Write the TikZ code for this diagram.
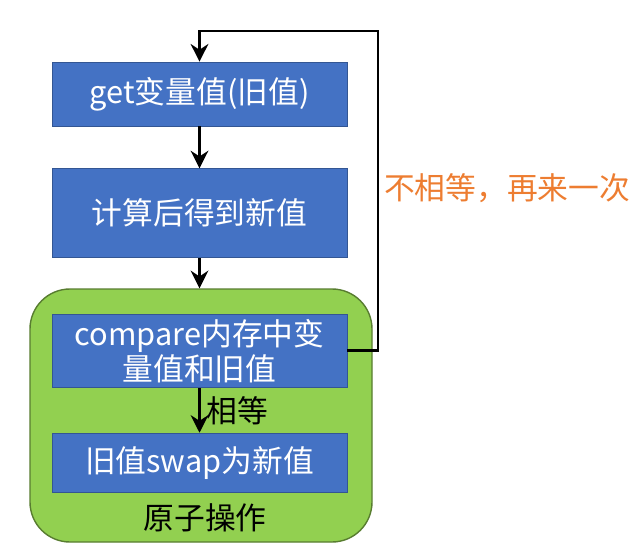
\documentclass[tikz,border=0pt]{standalone}
\usepackage{fontspec}
\setmainfont{Noto Sans CJK SC}
\usepackage{tikz}
\usetikzlibrary{positioning,arrows.meta}
\definecolor{stepblue}{HTML}{4472C4}
\definecolor{atomgreen}{HTML}{92D050}
\definecolor{loopora}{HTML}{ED7D31}
\tikzset{
  stepbox/.style={rectangle, draw=stepblue!75!black, fill=stepblue, text=white, minimum width=5.9cm, inner sep=2pt, font=\fontsize{17.5}{21}\selectfont, align=center},
  atombox/.style={rectangle, rounded corners=0.8cm, draw=atomgreen!60!black, fill=atomgreen, thick, minimum width=6.84cm, minimum height=5.06cm},
  fwd/.style={-{Stealth[length=10pt,width=10pt]}, line width=1.7pt},
  tag/.style={font=\fontsize{17.5}{21}\selectfont},
}
\begin{document}
\begin{tikzpicture}
\useasboundingbox (0,0) rectangle (12.7,-11);
%Nodes
\node[atombox] (atom) at (4.02,-8.31) {};
\node[stepbox, minimum height=1.28cm] (get) at (3.99,-1.88) {get变量值(旧值)};
\node[stepbox, minimum height=1.78cm] (calc) [below=0.84cm of get] {计算后得到新值};
\node[stepbox, minimum height=1.46cm] (cmp) [below=1.12cm of calc] {compare内存中变\\[-1pt]量值和旧值};
\node[stepbox, minimum height=1.18cm] (swap) [below=0.9cm of cmp] {旧值swap为新值};
\node[tag] (atomlbl) at (4.1,-10.36) {原子操作};
\coordinate (loopturn) at (7.56,-0.62);
\node[tag, text=loopora, anchor=west, inner sep=1pt] (retry) at (7.64,-3.76) {不相等，再来一次};

%Lines
\draw[fwd] (get.south) -- (calc.north);
\draw[fwd] (calc.south) -- (calc.south |- atom.north);
\draw[fwd] (cmp.south) -- (swap.north) node[midway, right, tag, inner sep=3pt] {相等};
\draw[fwd] (cmp.east) -| (loopturn) -| (get.north);
\end{tikzpicture}
\end{document}
